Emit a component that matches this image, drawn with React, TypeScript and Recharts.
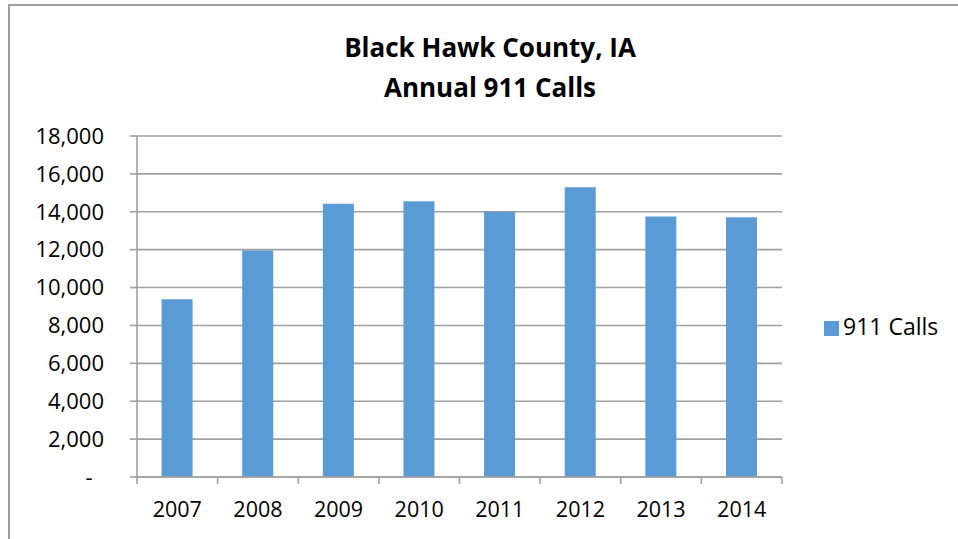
import { BarChart, Bar, XAxis, YAxis, CartesianGrid, Legend } from 'recharts';

const years = ['2007', '2008', '2009', '2010', '2011', '2012', '2013', '2014'];
const calls = [9380, 11950, 14420, 14560, 14000, 15300, 13750, 13710];
const yTicks = [0, 2000, 4000, 6000, 8000, 10000, 12000, 14000, 16000, 18000];

const data = years.map((year, i) => ({ year, calls: calls[i] }));

const FONT = "'Open Sans', sans-serif";
const GRID = '#a0a0a0';
const LABEL_GAP = 25;

const formatY = (v: number) => (v === 0 ? '-\u00a0\u00a0' : v.toLocaleString('en-US'));

// year label plus Excel-style tick marks on the category boundaries
const YearTick = (props: any) => {
  const { x, y, payload, index } = props;
  const half = payload.offset ?? 0;
  const axisY = y - LABEL_GAP;
  const last = index === years.length - 1;
  return (
    <g>
      <line x1={x - half} x2={x - half} y1={axisY} y2={axisY + 7} stroke={GRID} strokeWidth={1.6} />
      {last && <line x1={x + half} x2={x + half} y1={axisY} y2={axisY + 7} stroke={GRID} strokeWidth={1.6} />}
      <text x={x} y={y} dy="0.71em" textAnchor="middle" fill="#000" fontSize={21.5} fontFamily={FONT}>
        {payload.value}
      </text>
    </g>
  );
};

export default function App() {
  return (
    <div style={{ position: 'relative', width: 958, height: 539, overflow: 'hidden', background: '#fff' }}>
      <style>{'body { margin: 0; }'}</style>
      <div
        style={{
          position: 'absolute',
          left: 8,
          top: 4,
          width: 1000,
          height: 600,
          borderLeft: `2px solid ${GRID}`,
          borderTop: `2px solid ${GRID}`,
        }}
      />
      <div
        style={{
          position: 'absolute',
          left: 190,
          top: 27,
          width: 600,
          textAlign: 'center',
          fontFamily: FONT,
          fontWeight: 700,
          fontSize: 26,
          lineHeight: '40px',
          color: '#000',
        }}
      >
        Black Hawk County, IA
        <br />
        Annual 911 Calls
      </div>
      <div style={{ position: 'absolute', left: 0, top: 0 }}>
        <BarChart
          width={958}
          height={539}
          data={data}
          margin={{ top: 136, right: 176, bottom: 0, left: 0 }}
          barCategoryGap="30.5%"
        >
          <CartesianGrid vertical={false} stroke={GRID} strokeWidth={1.6} />
          <XAxis
            dataKey="year"
            height={62}
            axisLine={{ stroke: GRID, strokeWidth: 1.6 }}
            tickLine={false}
            tickSize={0}
            tickMargin={LABEL_GAP}
            interval={0}
            tick={<YearTick />}
          />
          <YAxis
            width={137}
            domain={[0, 18000]}
            ticks={yTicks}
            interval={0}
            tickFormatter={formatY}
            tickSize={7}
            tickMargin={26}
            axisLine={{ stroke: GRID, strokeWidth: 1.6 }}
            tickLine={{ stroke: GRID, strokeWidth: 1.6 }}
            tick={{ fill: '#000', fontSize: 22, fontFamily: FONT }}
          />
          <Legend
            layout="vertical"
            align="center"
            verticalAlign="middle"
            iconType="square"
            iconSize={15}
            formatter={(value) => <span style={{ color: '#000' }}>{value}</span>}
            wrapperStyle={{ left: 824, top: 310, width: 'auto', fontFamily: FONT, fontSize: 23 }}
          />
          <Bar dataKey="calls" name="911 Calls" fill="#5b9bd5" isAnimationActive={false} />
        </BarChart>
      </div>
    </div>
  );
}
